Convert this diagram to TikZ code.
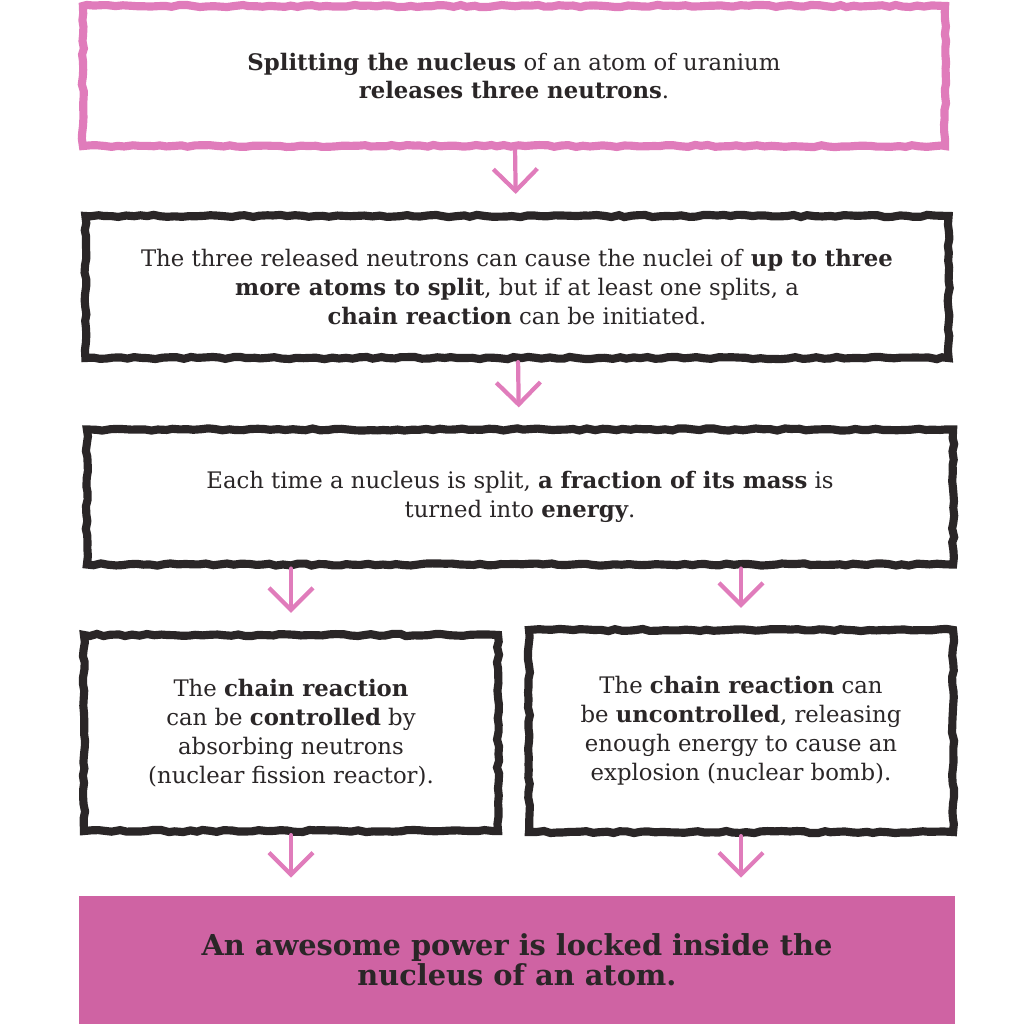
\documentclass[tikz,border=0pt]{standalone}
\usepackage{fontspec}
\setmainfont{DejaVu Serif}
\usepackage{xcolor}
\usepackage{tikz}
\usetikzlibrary{arrows.meta,decorations.pathmorphing}

\definecolor{inkpink}{HTML}{E07CBB}
\definecolor{inkdark}{HTML}{2A2627}
\definecolor{panelpink}{HTML}{CF63A3}

\begin{document}
\begin{tikzpicture}[
    x=0.025cm, y=-0.025cm,
    rough/.style={draw=inkdark, line width=5.8pt, fill=white, align=center,
      inner sep=0pt, text=inkdark, font=\fontsize{16.2}{20.6}\selectfont,
      decorate, decoration={random steps, segment length=5pt, amplitude=0.8pt}},
    roughpink/.style={rough, draw=inkpink},
    panel/.style={fill=panelpink, draw=none, align=center, inner sep=0pt,
      text=inkdark, font=\fontsize{20.5}{21.5}\selectfont\bfseries},
    flow/.style={draw=inkpink, line width=3pt, line cap=round,
      -{Straight Barb[length=5.5mm, width=11mm, line width=3pt]}, shorten >=4.5mm}
]
\useasboundingbox (0,0) rectangle (1024,1024);

% boxes
\node[roughpink, minimum width=21.55cm, minimum height=3.5cm] (split) at (514,76)
  {\textbf{Splitting the nucleus} of an atom of uranium\\ \textbf{releases three neutrons}.};
\node[rough, minimum width=21.575cm, minimum height=3.55cm] (chain) at (517,287)
  {The three released neutrons can cause the nuclei of \textbf{up to three}\\
   \textbf{more atoms to split}, but if at least one splits, a\\
   \textbf{chain reaction} can be initiated.};
\node[rough, minimum width=21.65cm, minimum height=3.375cm] (mass) at (520,497)
  {Each time a nucleus is split, \textbf{a fraction of its mass} is\\
   turned into \textbf{energy}.};
\node[rough, minimum width=10.35cm, minimum height=4.9cm] (ctrl) at (291,733)
  {The \textbf{chain reaction}\\ can be \textbf{controlled} by\\ absorbing neutrons\\
   (nuclear fission reactor).};
\node[rough, minimum width=10.6cm, minimum height=5.05cm] (bomb) at (741,731)
  {The \textbf{chain reaction} can\\ be \textbf{uncontrolled}, releasing\\
   enough energy to cause an\\ explosion (nuclear bomb).};
\node[panel, minimum width=21.875cm, minimum height=3.2cm] (power) at (517,960)
  {An awesome power is locked inside the\\ nucleus of an atom.};

% arrows
\draw[flow] (split) -- (chain);
\draw[flow] (chain) -- (mass);
\draw[flow] (mass.south -| ctrl.north) -- (ctrl.north);
\draw[flow] (mass.south -| bomb.north) -- (bomb.north);
\draw[flow] (ctrl) -- (ctrl.south |- power.north);
\draw[flow] (bomb) -- (bomb.south |- power.north);
\end{tikzpicture}
\end{document}
